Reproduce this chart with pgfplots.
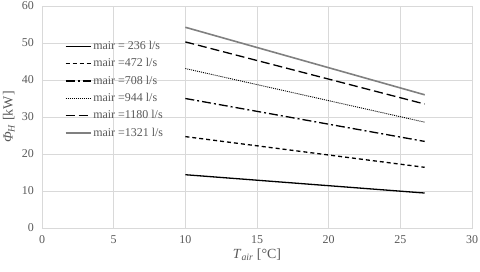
\documentclass[border=0pt]{standalone}
\usepackage{fontspec}
\setmainfont{Liberation Serif}
\usepackage{pgfplots}
\pgfplotsset{compat=1.18}
\definecolor{gridc}{HTML}{D9D9D9}
\definecolor{txtc}{HTML}{595959}
\definecolor{grayline}{HTML}{808080}
\begin{document}
\fontsize{12}{14}\selectfont
\begin{tikzpicture}[x=1bp,y=1bp]
\begin{axis}[
  at={(0,0)}, anchor=south west,
  scale only axis, width=430bp, height=222bp,
  xmin=0, xmax=30, ymin=0, ymax=60,
  xtick={0,5,...,30}, ytick={0,10,...,60},
  grid=major,
  major grid style={draw=gridc, line width=0.8bp},
  axis line style={draw=gridc, line width=0.8bp},
  tick style={draw=none},
  ticklabel style={text=txtc, font=\fontsize{12}{14}\selectfont},
  /pgf/number format/assume math mode=true,
  xticklabel style={yshift=-3bp},
  yticklabel style={xshift=-4bp},
  xlabel={\textit{T}\textsubscript{\textit{air}} [°C]},
  ylabel={\textit{Φ}\textsubscript{\textit{H}} [kW]},
  label style={text=txtc, font=\fontsize{14}{16}\selectfont},
  xlabel style={yshift=3bp},
  ylabel style={yshift=-1bp},
  legend style={draw=none, fill=none, at={(0.05,0.855)}, anchor=north west,
    font=\fontsize{12}{14}\selectfont, text=txtc, row sep=3.2bp, inner sep=1bp},
  legend cell align=left,
  legend image code/.code={\draw[#1] (0bp,0bp) -- (25bp,0bp);},
  every axis plot/.append style={line width=1.3bp},
]
\addplot[black] coordinates {(10,14.4) (26.7,9.45)};
\addlegendentry{mair = 236 l/s}
\addplot[black, dash pattern=on 4bp off 3bp] coordinates {(10,24.7) (26.7,16.4)};
\addlegendentry{mair =472 l/s}
\addplot[black, dash pattern=on 9bp off 3bp on 2bp off 3bp] coordinates {(10,35.0) (26.7,23.4)};
\addlegendentry{mair =708 l/s}
\addplot[black, line width=0.9bp, dash pattern=on 1bp off 1bp] coordinates {(10,43.1) (26.7,28.6)};
\addlegendentry{mair =944 l/s}
\addplot[black, dash pattern=on 9bp off 4bp] coordinates {(10,50.3) (26.7,33.5)};
\addlegendentry{mair =1180 l/s}
\addplot[grayline, line width=1.6bp] coordinates {(10,54.25) (26.7,36.0)};
\addlegendentry{mair =1321 l/s}
\end{axis}
\pgfresetboundingbox
\useasboundingbox (-42bp,-44bp) rectangle (438bp,228bp);
\end{tikzpicture}
\end{document}
